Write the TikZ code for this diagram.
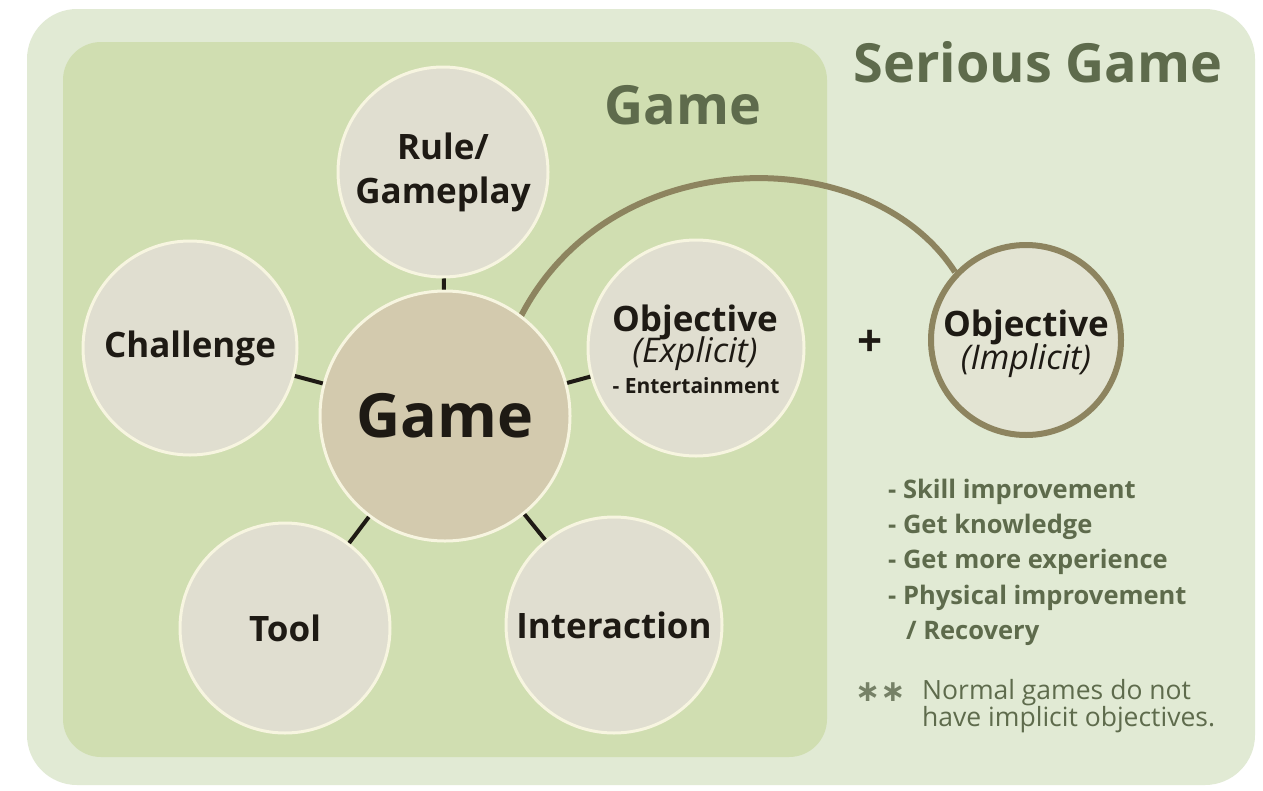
\documentclass[tikz,border=0pt]{standalone}
\usepackage{fontspec}
\setmainfont{Open Sans}
\newfontfamily\symfont{DejaVu Sans}
\definecolor{outerbg}{HTML}{E1EAD4}
\definecolor{innerbg}{HTML}{D0DEB1}
\definecolor{bubble}{HTML}{E0DED0}
\definecolor{rim}{HTML}{F7F5E0}
\definecolor{hub}{HTML}{D3CAAE}
\definecolor{olive}{HTML}{8D845F}
\definecolor{sage}{HTML}{5E6B4C}
\definecolor{ink}{HTML}{1E1A14}
\definecolor{ringfill}{HTML}{E3E4D3}
\tikzset{
  bubblenode/.style={circle, fill=bubble, draw=rim, line width=3pt, inner sep=0pt,
    minimum size=#1, align=center, text=ink, font=\bfseries\fontsize{35}{44}\selectfont},
  spoke/.style={draw=ink, line width=4pt},
  headtext/.style={text=ink, font=\bfseries\fontsize{35}{38}\selectfont, inner sep=0pt},
  subtext/.style={text=ink, font=\itshape\fontsize{34}{36}\selectfont, inner sep=0pt},
  titletext/.style={text=sage, font=\bfseries\fontsize{54}{58}\selectfont},
  listtext/.style={anchor=west, text=sage, font=\bfseries\fontsize{25.5}{28}\selectfont, inner sep=0pt},
}
\begin{document}
\begin{tikzpicture}[x=1pt, y=-1pt]
  \useasboundingbox (0,0) rectangle (1263,790);
  \fill[white] (0,0) rectangle (1263,790);
  % panels
  \fill[outerbg, rounded corners=50pt] (27,9) rectangle (1255,785);
  \fill[innerbg, rounded corners=38pt] (63,42) rectangle (827,757);
  % titles
  \node[titletext] (ttlgame) at (683,105) {Game};
  \node[titletext] (ttlserious) at (1038,62) {Serious Game};
  % arc from the hub to the implicit objective
  \coordinate (arcA) at (520,318);
  \coordinate (arcB) at (955,272);
  \draw[olive, line width=6pt] (arcA) .. controls (610,140) and (870,140) .. (arcB);
  % bubbles
  \node[bubblenode=210pt] (rule) at (443,172) {Rule/\\Gameplay};
  \node[bubblenode=214pt] (chal) at (190,348) {Challenge};
  \node[bubblenode=216pt] (objx) at (696,348) {};
  \node[bubblenode=210pt] (tool) at (285,628) {Tool};
  \node[bubblenode=216pt] (inter) at (614,625) {Interaction};
  \node[bubblenode=250pt, fill=hub, font=\bfseries\fontsize{61}{64}\selectfont] (hub) at (445,416) {Game};
  % spokes
  \draw[spoke] (rule) -- (hub);
  \draw[spoke] (chal) -- (hub);
  \draw[spoke] (objx) -- (hub);
  \draw[spoke] (tool) -- (hub);
  \draw[spoke] (inter) -- (hub);
  % explicit objective text
  \node[headtext] (objxa) at (695,322) {Objective};
  \node[subtext] (objxb) at (695,354) {(Explicit)};
  \node[text=ink, font=\bfseries\fontsize{21}{23}\selectfont, inner sep=0pt] (objxc) at (696,386) {- Entertainment};
  % implicit objective
  \node[circle, fill=ringfill, draw=olive, line width=6pt, minimum size=190pt, inner sep=0pt] (objy) at (1026,340) {};
  \node[headtext] (objya) at (1026,327) {Objective};
  \node[subtext] (objyb) at (1026,361) {(Implicit)};
  \node[text=ink, font=\bfseries\fontsize{44}{46}\selectfont] (plus) at (870,343) {+};
  % list of implicit objectives
  \node[listtext] (l1) at (888,492) {- Skill improvement};
  \node[listtext] (l2) at (888,527) {- Get knowledge};
  \node[listtext] (l3) at (888,562) {- Get more experience};
  \node[listtext] (l4) at (888,598) {- Physical improvement};
  \node[listtext] (l5) at (906,633) {/ Recovery};
  % note
  \node[anchor=west, text=sage!85!white, font=\symfont\bfseries\fontsize{30}{32}\selectfont, inner sep=0pt] (stars) at (855,692) {∗∗};
  \node[anchor=north west, text=sage, align=left, font=\fontsize{26.5}{24}\selectfont, inner sep=0pt] (note) at (922,679) {Normal games do not\\have implicit objectives.};
\end{tikzpicture}
\end{document}
